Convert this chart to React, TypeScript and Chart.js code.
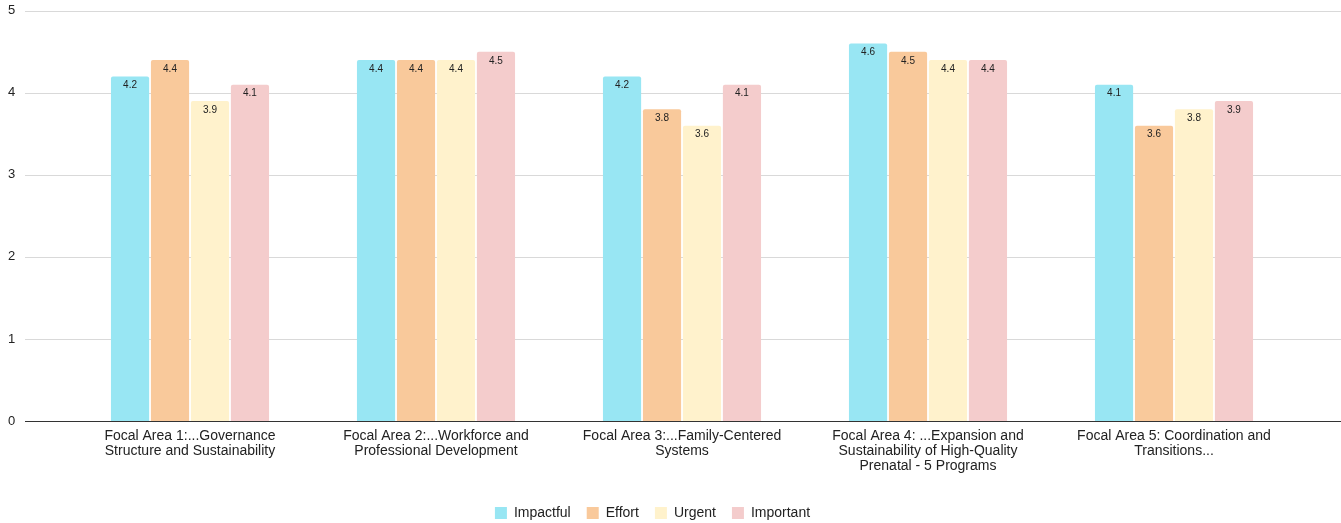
import React, { useEffect, useRef } from "react";
import { Chart, registerables } from "chart.js";

Chart.register(...registerables);

const categories: string[][] = [
  ["Focal Area 1:...Governance", "Structure and Sustainability"],
  ["Focal Area 2:...Workforce and", "Professional Development"],
  ["Focal Area 3:...Family-Centered", "Systems"],
  ["Focal Area 4: ...Expansion and", "Sustainability of High-Quality", "Prenatal - 5 Programs"],
  ["Focal Area 5: Coordination and", "Transitions..."],
];
const impactful = [4.2, 4.4, 4.2, 4.6, 4.1];
const effort = [4.4, 4.4, 3.8, 4.5, 3.6];
const urgent = [3.9, 4.4, 3.6, 4.4, 3.8];
const important = [4.1, 4.5, 4.1, 4.4, 3.9];
const yTicks = [0, 1, 2, 3, 4, 5];

const FONT = "'Liberation Sans', Arial, sans-serif";

const gridPlugin = {
  id: "fullGrid",
  beforeDatasetsDraw(chart: any) {
    const { ctx } = chart;
    const y = chart.scales.y;
    ctx.save();
    for (const t of yTicks) {
      const py = Math.round(y.getPixelForValue(t)) + 0.5;
      ctx.beginPath();
      ctx.strokeStyle = t === 0 ? "#333333" : "#d9d9d9";
      ctx.lineWidth = 1;
      ctx.moveTo(25, py);
      ctx.lineTo(chart.width, py);
      ctx.stroke();
    }
    ctx.restore();
  },
};

const labelPlugin = {
  id: "barLabels",
  afterDatasetsDraw(chart: any) {
    const { ctx } = chart;
    ctx.save();
    ctx.font = `10px ${FONT}`;
    ctx.fillStyle = "#222222";
    ctx.textAlign = "center";
    ctx.textBaseline = "middle";
    chart.data.datasets.forEach((ds: any, i: number) => {
      const meta = chart.getDatasetMeta(i);
      meta.data.forEach((bar: any, j: number) => {
        ctx.fillText(String(ds.data[j].toFixed(1)), bar.x, bar.y + 9);
      });
    });
    ctx.restore();
  },
};

export default function App() {
  const ref = useRef<HTMLCanvasElement>(null);
  useEffect(() => {
    document.body.style.margin = "0";
    Chart.defaults.font.family = FONT;
    const chart = new Chart(ref.current!, {
      type: "bar",
      data: {
        labels: categories,
        datasets: [
          { label: "Impactful", data: impactful, backgroundColor: "#98e6f3" },
          { label: "Effort", data: effort, backgroundColor: "#f9c99b" },
          { label: "Urgent", data: urgent, backgroundColor: "#fff2cc" },
          { label: "Important", data: important, backgroundColor: "#f4cccc" },
        ].map((d) => ({
          ...d,
          borderWidth: 0,
          borderRadius: { topLeft: 2, topRight: 2 },
          borderSkipped: "bottom",
          categoryPercentage: 0.65,
          barPercentage: 0.955,
        })),
      },
      options: {
        responsive: false,
        animation: false,
        layout: { padding: { left: 8, right: 44, top: 8, bottom: -7 } },
        plugins: {
          legend: {
            position: "bottom",
            labels: {
              boxWidth: 12,
              boxHeight: 12,
              padding: 16,
              color: "#222222",
              font: { size: 14, family: FONT },
            },
          },
          tooltip: { enabled: false },
        },
        scales: {
          x: {
            grid: { display: false, drawTicks: false },
            border: { display: false },
            afterFit: (s: any) => {
              s.height = 69;
            },
            ticks: {
              color: "#222222",
              font: { size: 14, family: FONT, lineHeight: "15px" },
              padding: 8,
              maxRotation: 0,
              autoSkip: false,
            },
          },
          y: {
            min: 0,
            max: 5,
            grid: { display: false, drawTicks: false },
            border: { display: false },
            afterFit: (s: any) => {
              s.width = 59;
            },
            ticks: {
              stepSize: 1,
              crossAlign: "far",
              color: "#222222",
              font: { size: 13, family: FONT },
            },
          },
        },
      },
      plugins: [gridPlugin, labelPlugin],
    });
    return () => chart.destroy();
  }, []);
  return <canvas ref={ref} width={1341} height={523} style={{ display: "block" }} />;
}
